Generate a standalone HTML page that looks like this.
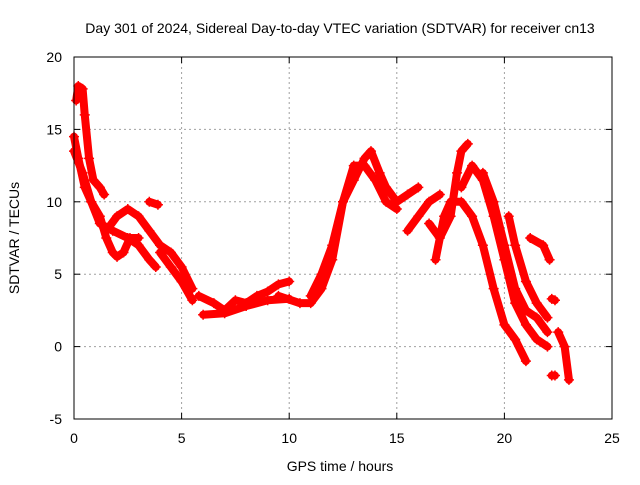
<!DOCTYPE html>
<html><head><meta charset="utf-8"><style>
body{margin:0;background:#fff;}
svg text{font-family:"Liberation Sans",sans-serif;font-size:14px;fill:#000;}
</style></head><body>
<svg id="chart" width="640" height="480" viewBox="0 0 640 480" xmlns="http://www.w3.org/2000/svg">
<text x="340" y="33" text-anchor="middle">Day 301 of 2024, Sidereal Day-to-day VTEC variation (SDTVAR) for receiver cn13</text>
<text x="340" y="471" text-anchor="middle">GPS time / hours</text>
<text transform="translate(19,238) rotate(-90)" text-anchor="middle">SDTVAR / TECUs</text>
<g id="grid"></g>
<g id="series"></g>
<rect x="74" y="57" width="538" height="362" fill="none" stroke="#000" stroke-width="1"/>
</svg>
<script>
const xTicks=[0,5,10,15,20,25];
const yTicks=[-5,0,5,10,15,20];
const trackA=[[0.1,17],[0.2,18],[0.4,17.8],[0.5,16],[0.7,13],[0.9,11.5],[1.2,11],[1.4,10.5]];
const trackB=[[0,14.5],[0.2,13],[0.5,11],[0.8,10],[1.2,9],[1.5,7.5],[1.8,6.5],[2.0,6.2],[2.3,6.5],[2.6,7.5],[3,7.5]];
const trackC=[[1.5,8],[2,9],[2.5,9.5],[3,9],[3.5,8],[4,7],[4.5,6.5],[5,5.5],[5.5,4]];
const trackD=[[0,13.5],[0.4,12],[0.8,10],[1.2,8.5],[1.8,8],[2.5,7.5],[3,7],[3.5,6],[3.8,5.5]];
const trackD2=[[3.5,10],[3.9,9.8]];
const trackE=[[4,6.5],[4.5,5.5],[5,4.5],[5.5,3.2]];
const trackF=[[5.8,3.5],[6.5,3],[7,2.5],[7.5,3.2],[8,3],[8.5,3.5],[9,3.8],[9.5,4.3],[10,4.5]];
const trackF2=[[6,2.2],[7,2.3],[8,2.8],[9,3.2],[10,3.3]];
const trackG=[[9.5,3.5],[10.5,3],[11,3],[11.5,4],[12,6],[12.5,10],[13,12.5],[13.5,12.5],[14,11.5],[14.5,10],[15,9.5]];
const trackH=[[11,3.5],[11.5,5],[12,7],[12.5,10],[13,11.5],[13.5,13],[13.8,13.5],[14.2,12],[14.5,11],[15,10],[15.5,10.5],[16,11]];
const trackI=[[15.5,8],[16,9],[16.5,10],[17,10.5]];
const trackJ=[[16.5,8.5],[17,7.5],[17.5,9],[17.8,12],[18,13.5],[18.3,14]];
const trackK=[[16.8,6],[17.2,9],[17.5,10],[18,10],[18.5,9],[19,7],[19.5,4],[20,1.5],[20.5,0.5],[21,-1]];
const trackL=[[18,11],[18.5,12.5],[19,11.5],[19.5,9],[20,6],[20.5,3],[21,1.5],[21.5,0.5],[22,0]];
const trackM=[[19,12],[19.5,10],[20,7],[20.5,4],[21,2.5],[21.5,2],[22,1]];
const trackN=[[20.2,9],[20.5,7],[21,4.5],[21.5,3],[22,2]];
const trackO=[[21.2,7.5],[21.8,7],[22.1,6]];
const trackP=[[22.5,1],[22.8,0],[23,-2.3]];
const trackQ=[[22.2,3.3],[22.35,3.2]];
const trackR=[[22.2,-2],[22.35,-2]];
const tracks=[trackA,trackB,trackC,trackD,trackD2,trackE,trackF,trackF2,trackG,trackH,trackI,trackJ,trackK,trackL,trackM,trackN,trackO,trackP,trackQ,trackR];

const X0=74,X1=612,Y0=419,Y1=57;
const xs=v=>X0+(v-0)/(25-0)*(X1-X0);
const ys=v=>Y0-(v+5)/(25)*(Y0-Y1);
const NS="http://www.w3.org/2000/svg";
const svg=document.getElementById('chart');
const grid=document.getElementById('grid');
const ser=document.getElementById('series');
function mk(t,a,p){const e=document.createElementNS(NS,t);for(const k in a)e.setAttribute(k,a[k]);p.appendChild(e);return e;}
xTicks.forEach(t=>{
  const x=xs(t);
  if(t>0&&t<25){const g=mk('line',{x1:x,x2:x,y1:Y1,y2:Y0,stroke:'#a0a0a0','stroke-dasharray':'2,3'},grid);
  
  }
  const tk=mk('line',{x1:x,x2:x,y1:Y0,y2:Y0-6,stroke:'#000'},grid);
  
  
  const tk2=mk('line',{x1:x,x2:x,y1:Y1,y2:Y1+6,stroke:'#000'},grid);
  
  
  const l=mk('text',{x:x,y:443,'text-anchor':'middle'},svg);l.textContent=t;
  
  
});
yTicks.forEach(t=>{
  const y=ys(t);
  if(t>-5&&t<20){const g=mk('line',{x1:X0,x2:X1,y1:y,y2:y,stroke:'#a0a0a0','stroke-dasharray':'2,3'},grid);
  
  }
  const tk=mk('line',{x1:X0,x2:X0+6,y1:y,y2:y,stroke:'#000'},grid);
  
  
  const tk2=mk('line',{x1:X1,x2:X1-6,y1:y,y2:y,stroke:'#000'},grid);
  
  
  const l=mk('text',{x:62,y:y+5,'text-anchor':'end'},svg);l.textContent=t;
  
  
});
tracks.forEach(tr=>{
  const pl=mk('polyline',{points:tr.map(p=>xs(p[0])+','+ys(p[1])).join(' '),fill:'none',stroke:'#ff0000','stroke-width':8,'stroke-linejoin':'round','stroke-linecap':'round'},ser);
  
  
  tr.forEach(p=>{
    const x=xs(p[0]),y=ys(p[1]);
    const m=mk('path',{d:`M${x-5},${y}H${x+5}M${x},${y-5}V${y+5}`,stroke:'#ff0000','stroke-width':1.5},ser);
    
    
  });
});
</script>
</body></html>
